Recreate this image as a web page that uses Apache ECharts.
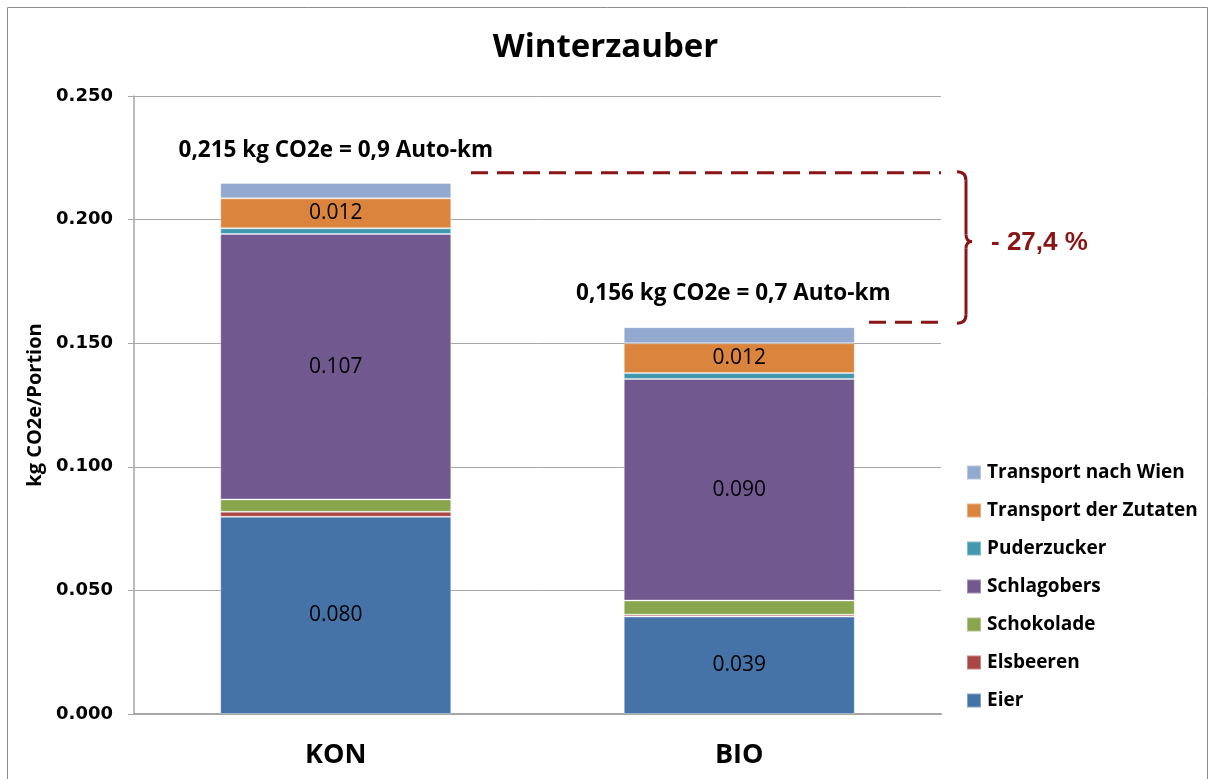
<!DOCTYPE html>
<html>
<head>
<meta charset="utf-8">
<title>Winterzauber</title>
<script src="https://cdn.jsdelivr.net/npm/echarts@6/dist/echarts.min.js"></script>
<style>
  html, body { margin: 0; padding: 0; background: #fff; }
  #chart { width: 1211px; height: 779px; }
</style>
</head>
<body>
<div id="chart"></div>
<script>
// categories and stacked components (kg CO2e / Portion), bottom to top
const categories = ["KON", "BIO"];
const eier = [0.0798, 0.0394];
const elsbeeren = [0.0020, 0.0008];
const schokolade = [0.0050, 0.0057];
const schlagobers = [0.1074, 0.0896];
const puderzucker = [0.0023, 0.0024];
const transportZutaten = [0.0121, 0.0121];
const transportWien = [0.0062, 0.0065];
const yTicks = [0, 0.05, 0.1, 0.15, 0.2, 0.25];

const totalLabels = ["0,215 kg CO2e = 0,9 Auto-km", "0,156 kg CO2e = 0,7 Auto-km"];
const reduction = "- 27,4 %";

const seriesDefs = [
  { name: "Eier", data: eier, color: "#4572a7", label: true },
  { name: "Elsbeeren", data: elsbeeren, color: "#aa4643", label: false },
  { name: "Schokolade", data: schokolade, color: "#89a54e", label: false },
  { name: "Schlagobers", data: schlagobers, color: "#71588f", label: true },
  { name: "Puderzucker", data: puderzucker, color: "#4198af", label: false },
  { name: "Transport der Zutaten", data: transportZutaten, color: "#db843d", label: true },
  { name: "Transport nach Wien", data: transportWien, color: "#93a9cf", label: false },
];

const font = "Open Sans";
const chart = echarts.init(document.getElementById("chart"));

const series = seriesDefs.map((s) => ({
  name: s.name,
  type: "bar",
  stack: "total",
  barWidth: 231,
  itemStyle: { color: s.color, borderColor: "rgba(255,255,255,0.35)", borderWidth: 1 },
  label: {
    show: s.label,
    position: "inside",
    formatter: ({ value }) => value.toFixed(3),
    color: "#000",
    fontFamily: font,
    fontSize: 21,
  },
  emphasis: { disabled: true },
  data: s.data,
}));

chart.setOption({
  animation: false,
  title: {
    text: "Winterzauber",
    left: "center",
    top: 26,
    textStyle: { fontFamily: font, fontWeight: "bold", fontSize: 33, color: "#000" },
  },
  legend: {
    orient: "vertical",
    left: 966,
    top: 463,
    padding: 0,
    itemWidth: 14,
    itemHeight: 14,
    itemGap: 19,
    icon: "rect",
    data: seriesDefs.map((s) => s.name).reverse(),
    textStyle: { fontFamily: font, fontWeight: "bold", fontSize: 19, lineHeight: 16, color: "#000", padding: [0, 0, 0, 1] },
  },
  grid: { left: 134, right: 270, top: 96, bottom: 65 },
  xAxis: {
    type: "category",
    data: categories,
    axisLine: { lineStyle: { color: "#a6a6a6", width: 2 } },
    axisTick: { show: false },
    axisLabel: { fontFamily: font, fontWeight: "bold", fontSize: 27, color: "#000", margin: 28 },
  },
  yAxis: {
    type: "value",
    min: 0,
    max: 0.25,
    interval: 0.05,
    name: "kg CO2e/Portion",
    nameLocation: "middle",
    nameGap: 76,
    nameTextStyle: { fontFamily: font, fontWeight: "bold", fontSize: 20, color: "#000" },
    axisLine: { show: true, lineStyle: { color: "#a6a6a6", width: 1.5 } },
    axisTick: { show: true, length: 6, lineStyle: { color: "#a6a6a6" } },
    splitLine: { lineStyle: { color: "#a6a6a6", width: 1 } },
    axisLabel: {
      fontFamily: "DejaVu Sans",
      fontWeight: "bold",
      fontSize: 18,
      color: "#000",
      margin: 21,
      formatter: (v) => (yTicks.includes(Math.round(v * 1000) / 1000) ? v.toFixed(3) : ""),
    },
  },
  series,
});

// annotations placed via the chart's own scales
const red = "#8b1414";
const yTopDash = chart.convertToPixel({ yAxisIndex: 0 }, 0.219);
const yBotDash = chart.convertToPixel({ yAxisIndex: 0 }, 0.1585);
const yMid = yTopDash + 0.46 * (yBotDash - yTopDash);
const xKon = chart.convertToPixel({ xAxisIndex: 0 }, "KON");
const xBio = chart.convertToPixel({ xAxisIndex: 0 }, "BIO");
const yKonLabel = chart.convertToPixel({ yAxisIndex: 0 }, 0.228);
const yBioLabel = chart.convertToPixel({ yAxisIndex: 0 }, 0.17);
const bx = 966;

const braceStyle = { fill: "none", stroke: red, lineWidth: 3 };
const totalStyle = {
  fontFamily: font,
  fontWeight: "bold",
  fontSize: 22.5,
  fill: "#000",
  align: "center",
  verticalAlign: "middle",
};

chart.setOption({
  graphic: [
    {
      type: "rect",
      shape: { x: 7.5, y: 7.5, width: 1200, height: 800 },
      style: { fill: "none", stroke: "#8c8c8c", lineWidth: 1 },
      silent: true,
    },
    { type: "text", x: xKon, y: yKonLabel, style: { ...totalStyle, text: totalLabels[0] } },
    { type: "text", x: xBio - 6, y: yBioLabel, style: { ...totalStyle, text: totalLabels[1] } },
    {
      type: "line",
      shape: { x1: 471, y1: yTopDash, x2: 941, y2: yTopDash },
      style: { stroke: red, lineWidth: 3, lineDash: [17, 9] },
    },
    {
      type: "line",
      shape: { x1: 869, y1: yBotDash, x2: 941, y2: yBotDash },
      style: { stroke: red, lineWidth: 3, lineDash: [17, 9] },
    },
    // curly brace
    {
      type: "bezierCurve",
      shape: { x1: bx - 9, y1: yTopDash - 1, cpx1: bx, cpy1: yTopDash - 1, x2: bx, y2: yTopDash + 8 },
      style: braceStyle,
    },
    { type: "line", shape: { x1: bx, y1: yTopDash + 8, x2: bx, y2: yMid - 7 }, style: braceStyle },
    {
      type: "bezierCurve",
      shape: { x1: bx, y1: yMid - 7, cpx1: bx, cpy1: yMid, x2: bx + 6, y2: yMid },
      style: braceStyle,
    },
    {
      type: "bezierCurve",
      shape: { x1: bx + 6, y1: yMid, cpx1: bx, cpy1: yMid, x2: bx, y2: yMid + 7 },
      style: braceStyle,
    },
    { type: "line", shape: { x1: bx, y1: yMid + 7, x2: bx, y2: yBotDash - 8 }, style: braceStyle },
    {
      type: "bezierCurve",
      shape: { x1: bx, y1: yBotDash - 8, cpx1: bx, cpy1: yBotDash + 1, x2: bx - 9, y2: yBotDash + 1 },
      style: braceStyle,
    },
    {
      type: "text",
      x: 991,
      y: yMid + 1,
      style: {
        text: reduction,
        fontFamily: "Liberation Sans",
        fontWeight: "bold",
        fontSize: 26,
        fill: red,
        align: "left",
        verticalAlign: "middle",
      },
    },
  ],
});
</script>
</body>
</html>
